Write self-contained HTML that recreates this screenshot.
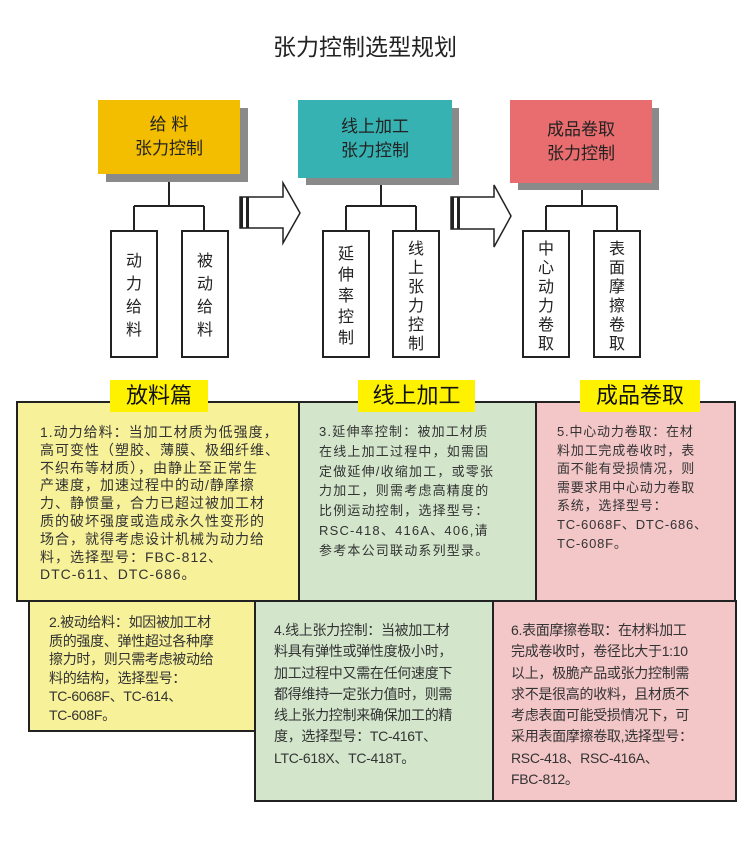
<!DOCTYPE html>
<html><head><meta charset="utf-8"><style>
*{margin:0;padding:0;box-sizing:border-box}
body{width:750px;height:843px;background:#fff;position:relative;overflow:hidden;font-family:"Liberation Sans","Noto Sans CJK SC",sans-serif;color:#222}
.a{position:absolute}
.top{position:absolute;text-align:center;font-size:17px;line-height:24px;color:#222;display:flex;align-items:center;justify-content:center}
.sh{position:absolute;background:#8a8a8a}
.ch{position:absolute;border:2px solid #222;background:#fff;font-size:16px;line-height:19px;text-align:center;padding-top:16px;color:#222}
.bx{position:absolute;border:2.5px solid #222}
.lab{position:absolute;background:#fff200;font-size:22px;line-height:32px;text-align:center;color:#111}
.t1{position:absolute;font-size:14px;line-height:17.8px;letter-spacing:1px;color:#333;white-space:nowrap}
.t2{position:absolute;font-size:14px;line-height:18.5px;color:#333;letter-spacing:-0.3px;white-space:nowrap}
.t3{position:absolute;font-size:14px;line-height:21.3px;color:#333;letter-spacing:-0.3px;white-space:nowrap}
</style></head><body>
<div class="a" style="left:0;width:730px;top:30px;text-align:center;font-size:23px;line-height:34px;color:#222">张力控制选型规划</div>

<div class="sh" style="left:106px;top:108px;width:142px;height:74px"></div>
<div class="top" style="left:98px;top:100px;width:142px;height:74px;background:#f3bd00">给 料<br>张力控制</div>
<div class="sh" style="left:306px;top:108px;width:153px;height:77px"></div>
<div class="top" style="left:298px;top:100px;width:154px;height:78px;background:#36b2b2">线上加工<br>张力控制</div>
<div class="sh" style="left:518px;top:108px;width:141px;height:82px"></div>
<div class="top" style="left:510px;top:100px;width:142px;height:83px;background:#e96c6e">成品卷取<br>张力控制</div>

<svg class="a" style="left:0;top:0" width="750" height="380">
<g stroke="#222" stroke-width="2" fill="none">
<path d="M169 182V206M134 206H204M134 206V230M204 206V230"/>
<path d="M381 185V206M346 206H416M346 206V230M416 206V230"/>
<path d="M582 190V206M546 206H617M546 206V230M617 206V230"/>
</g>
<g stroke="#222" stroke-width="1.5" fill="#fff">
<path d="M240 197H283V183L300 213L283 243V228H240Z"/>
<path d="M451 197H494V185L511 216L494 247V229H451Z"/>
</g>
<rect x="240" y="197" width="3" height="31" fill="#222"/><rect x="246" y="197" width="3" height="31" fill="#222"/>
<rect x="451" y="197" width="3" height="32" fill="#222"/><rect x="457" y="197" width="3" height="32" fill="#222"/>
</svg>

<div class="ch" style="left:110px;top:230px;width:48px;height:128px;padding-top:18px;line-height:23px">动<br>力<br>给<br>料</div>
<div class="ch" style="left:181px;top:230px;width:48px;height:128px;padding-top:18px;line-height:23px">被<br>动<br>给<br>料</div>
<div class="ch" style="left:322px;top:230px;width:48px;height:128px;padding-top:12px;line-height:21px">延<br>伸<br>率<br>控<br>制</div>
<div class="ch" style="left:392px;top:230px;width:48px;height:128px;padding-top:8px">线<br>上<br>张<br>力<br>控<br>制</div>
<div class="ch" style="left:522px;top:230px;width:48px;height:128px;padding-top:8px">中<br>心<br>动<br>力<br>卷<br>取</div>
<div class="ch" style="left:593px;top:230px;width:48px;height:128px;padding-top:8px">表<br>面<br>摩<br>擦<br>卷<br>取</div>

<div class="bx" style="left:16px;top:401px;width:284px;height:201px;background:#f7f19a"></div>
<div class="bx" style="left:298px;top:401px;width:239px;height:201px;background:#d3e6cc"></div>
<div class="bx" style="left:535px;top:401px;width:201px;height:201px;background:#f3c6c8"></div>
<div class="bx" style="left:28px;top:600px;width:228px;height:132px;background:#f7f19a"></div>
<div class="bx" style="left:254px;top:600px;width:240px;height:202px;background:#d3e6cc"></div>
<div class="bx" style="left:492px;top:600px;width:245px;height:202px;background:#f3c6c8"></div>

<div class="lab" style="left:110px;top:380px;width:98px">放料篇</div>
<div class="lab" style="left:358px;top:380px;width:117px">线上加工</div>
<div class="lab" style="left:580px;top:380px;width:120px">成品卷取</div>

<div class="t1" style="left:40px;top:424px">1.动力给料：当加工材质为低强度，<br>高可变性（塑胶、薄膜、极细纤维、<br>不织布等材质），由静止至正常生<br>产速度，加速过程中的动/静摩擦<br>力、静惯量，合力已超过被加工材<br>质的破坏强度或造成永久性变形的<br>场合，就得考虑设计机械为动力给<br>料，选择型号：FBC-812、<br>DTC-611、DTC-686。</div>
<div class="t1" style="left:319px;top:422px;font-size:13px;line-height:19.8px;letter-spacing:1.2px">3.延伸率控制：被加工材质<br>在线上加工过程中，如需固<br>定做延伸/收缩加工，或零张<br>力加工，则需考虑高精度的<br>比例运动控制，选择型号：<br>RSC-418、416A、406,请<br>参考本公司联动系列型录。</div>
<div class="t1" style="left:557px;top:423px;font-size:13px;line-height:18.6px;letter-spacing:0.8px">5.中心动力卷取：在材<br>料加工完成卷收时，表<br>面不能有受损情况，则<br>需要求用中心动力卷取<br>系统，选择型号：<br>TC-6068F、DTC-686、<br>TC-608F。</div>

<div class="t2" style="left:49px;top:613px">2.被动给料：如因被加工材<br>质的强度、弹性超过各种摩<br>擦力时，则只需考虑被动给<br>料的结构，选择型号：<br>TC-6068F、TC-614、<br>TC-608F。</div>
<div class="t3" style="left:274px;top:620px">4.线上张力控制：当被加工材<br>料具有弹性或弹性度极小时，<br>加工过程中又需在任何速度下<br>都得维持一定张力值时，则需<br>线上张力控制来确保加工的精<br>度，选择型号：TC-416T、<br>LTC-618X、TC-418T。</div>
<div class="t3" style="left:511px;top:620px">6.表面摩擦卷取：在材料加工<br>完成卷收时，卷径比大于1:10<br>以上，极脆产品或张力控制需<br>求不是很高的收料，且材质不<br>考虑表面可能受损情况下，可<br>采用表面摩擦卷取,选择型号：<br>RSC-418、RSC-416A、<br>FBC-812。</div>
</body></html>
